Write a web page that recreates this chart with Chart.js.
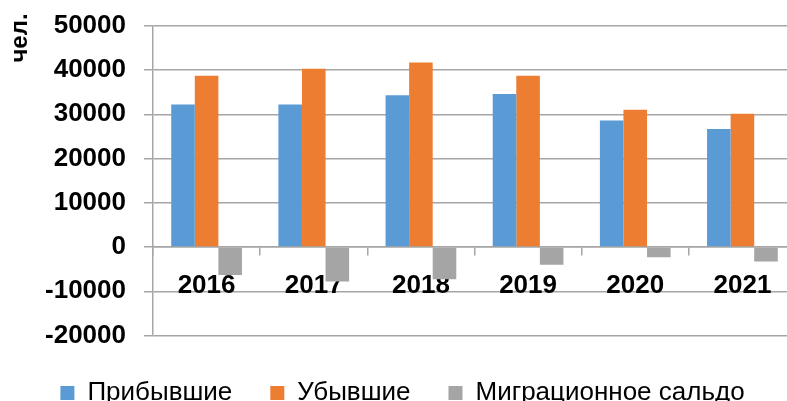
<!DOCTYPE html>
<html>
<head>
<meta charset="utf-8">
<script src="https://cdn.jsdelivr.net/npm/chart.js@4/dist/chart.umd.min.js"></script>
<style>
  html, body { margin: 0; padding: 0; background: #fff; overflow: hidden; }
</style>
</head>
<body>
<canvas id="chart" width="804" height="416"></canvas>
<script>
const years = ["2016", "2017", "2018", "2019", "2020", "2021"];
const arrived = [32200, 32200, 34300, 34600, 28600, 26700];
const departed = [38700, 40300, 41700, 38700, 31000, 30100];
const saldo = [-6300, -7800, -7300, -4000, -2300, -3300];
const seriesNames = ["Прибывшие", "Убывшие", "Миграционное сальдо"];
const unitLabel = "чел.";

const gridColor = "#a6a6a6";

// rotated unit caption at the top left
const unitCaption = {
  id: "unitCaption",
  afterDraw(chart) {
    const ctx = chart.ctx;
    ctx.save();
    ctx.translate(20, 38);
    ctx.rotate(-Math.PI / 2);
    ctx.font = "bold 24px 'Liberation Sans'";
    ctx.fillStyle = "#000";
    ctx.textAlign = "center";
    ctx.textBaseline = "middle";
    ctx.fillText(unitLabel, 0, 0);
    ctx.restore();
  },
};

new Chart(document.getElementById("chart"), {
  type: "bar",
  data: {
    labels: years,
    datasets: [
      { label: seriesNames[0], data: arrived, backgroundColor: "#5b9bd5" },
      { label: seriesNames[1], data: departed, backgroundColor: "#ed7d31" },
      { label: seriesNames[2], data: saldo, backgroundColor: "#a5a5a5" },
    ],
  },
  options: {
    responsive: false,
    animation: false,
    layout: { padding: { top: 25, left: 9, right: 8, bottom: 0 } },
    datasets: { bar: { categoryPercentage: 0.66, barPercentage: 1.0 } },
    plugins: {
      tooltip: { enabled: false },
      legend: {
        position: "bottom",
        title: { display: true, text: "", padding: 0, font: { size: 6, lineHeight: 1.083 } },
        labels: {
          boxWidth: 14,
          boxHeight: 14,
          padding: 38,
          color: "#000",
          font: { family: "'Liberation Sans'", size: 26 },
        },
      },
    },
    scales: {
      x: {
        position: { y: 0 },
        grid: {
          drawOnChartArea: false,
          drawTicks: true,
          tickLength: 8,
          lineWidth: 1.5,
          color: gridColor,
        },
        border: { display: true, color: gridColor, width: 1.5 },
        ticks: {
          color: "#000",
          padding: 15,
          font: { family: "'Liberation Sans'", size: 26, weight: "bold" },
        },
      },
      y: {
        min: -20000,
        max: 50000,
        afterFit(scale) { scale.width = 144; },
        grid: { color: gridColor, tickLength: 9, lineWidth: 1.5 },
        border: { display: true, color: gridColor, width: 1.5 },
        ticks: {
          stepSize: 10000,
          color: "#000",
          padding: 18,
          font: { family: "'Liberation Sans'", size: 26, weight: "bold", lineHeight: 0.6 },
          callback: (v) => String(v),
        },
      },
    },
  },
  plugins: [unitCaption],
});
</script>
</body>
</html>
